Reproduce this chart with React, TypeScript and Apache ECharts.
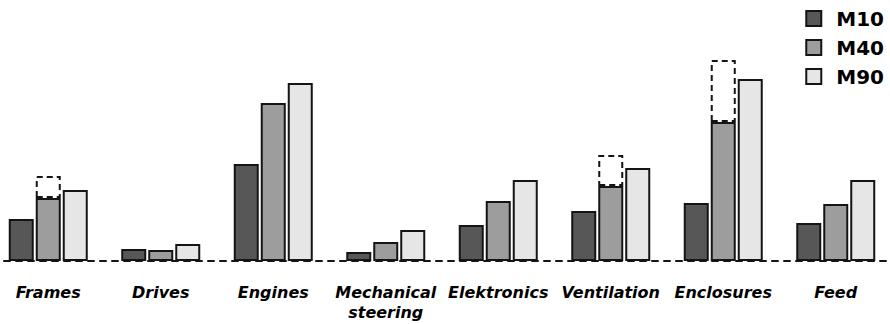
import React, { useEffect, useRef } from "react";
import * as echarts from "echarts";

const categories = [
  "Frames",
  "Drives",
  "Engines",
  "Mechanical\nsteering",
  "Elektronics",
  "Ventilation",
  "Enclosures",
  "Feed",
];
const seriesNames = ["M10", "M40", "M90"];
const m10 = [42, 12, 97, 9, 36, 50, 58, 38];
const m40 = [63, 11, 158, 19, 60, 75, 139, 57];
const m90 = [71, 17, 178, 31, 81, 93, 182, 81];
const m40Range = [22, null, null, null, null, 31, 62, null];
const colors = ["#575757", "#9d9d9d", "#e6e6e6"];

export default function App() {
  const ref = useRef<HTMLDivElement>(null);
  useEffect(() => {
    if (!ref.current) return;
    const chart = echarts.init(ref.current, null, { renderer: "svg" });
    const border = { borderColor: "#141414", borderWidth: 2 };
    chart.setOption({
      animation: false,
      backgroundColor: "#ffffff",
      grid: {
        left: -8,
        right: -2,
        top: 21,
        bottom: 63,
        containLabel: false,
        outerBoundsMode: "none",
      },
      legend: {
        data: seriesNames,
        orient: "vertical",
        right: 1,
        top: 3,
        icon: "rect",
        itemWidth: 15,
        itemHeight: 15,
        itemGap: 8,
        textStyle: {
          fontFamily: "DejaVu Sans",
          fontWeight: "bold",
          fontSize: 20,
          lineHeight: 21,
          color: "#000",
          padding: [0, 0, 0, 10],
        },
      },
      xAxis: {
        type: "category",
        data: categories,
        boundaryGap: true,
        axisLine: {
          show: true,
          lineStyle: { color: "#141414", width: 2, type: [6, 6] },
        },
        axisTick: { show: false },
        axisLabel: {
          interval: 0,
          margin: 21,
          fontFamily: "DejaVu Sans",
          fontWeight: "bold",
          fontStyle: "italic",
          fontSize: 16,
          lineHeight: 20,
          color: "#000",
        },
        splitLine: { show: false },
      },
      yAxis: {
        type: "value",
        min: 0,
        max: 240,
        show: false,
        splitLine: { show: false },
      },
      series: [
        {
          name: "M10",
          type: "bar",
          data: m10,
          barWidth: 25,
          barGap: "8%",
          itemStyle: { color: colors[0], ...border },
        },
        {
          name: "M40",
          type: "bar",
          stack: "m40",
          data: m40,
          barWidth: 25,
          barGap: "8%",
          itemStyle: { color: colors[1], ...border },
        },
        {
          name: "M40 range",
          type: "bar",
          stack: "m40",
          data: m40Range,
          barWidth: 25,
          barGap: "8%",
          itemStyle: {
            color: "rgba(255,255,255,0)",
            borderColor: "#141414",
            borderWidth: 2,
            borderType: [6, 4],
          },
        },
        {
          name: "M90",
          type: "bar",
          data: m90,
          barWidth: 25,
          barGap: "8%",
          itemStyle: { color: colors[2], ...border },
        },
      ],
    });
    return () => chart.dispose();
  }, []);
  return (
    <div
      ref={ref}
      style={{
        position: "fixed",
        left: 0,
        top: 0,
        width: 890,
        height: 324,
        background: "#fff",
      }}
    />
  );
}
